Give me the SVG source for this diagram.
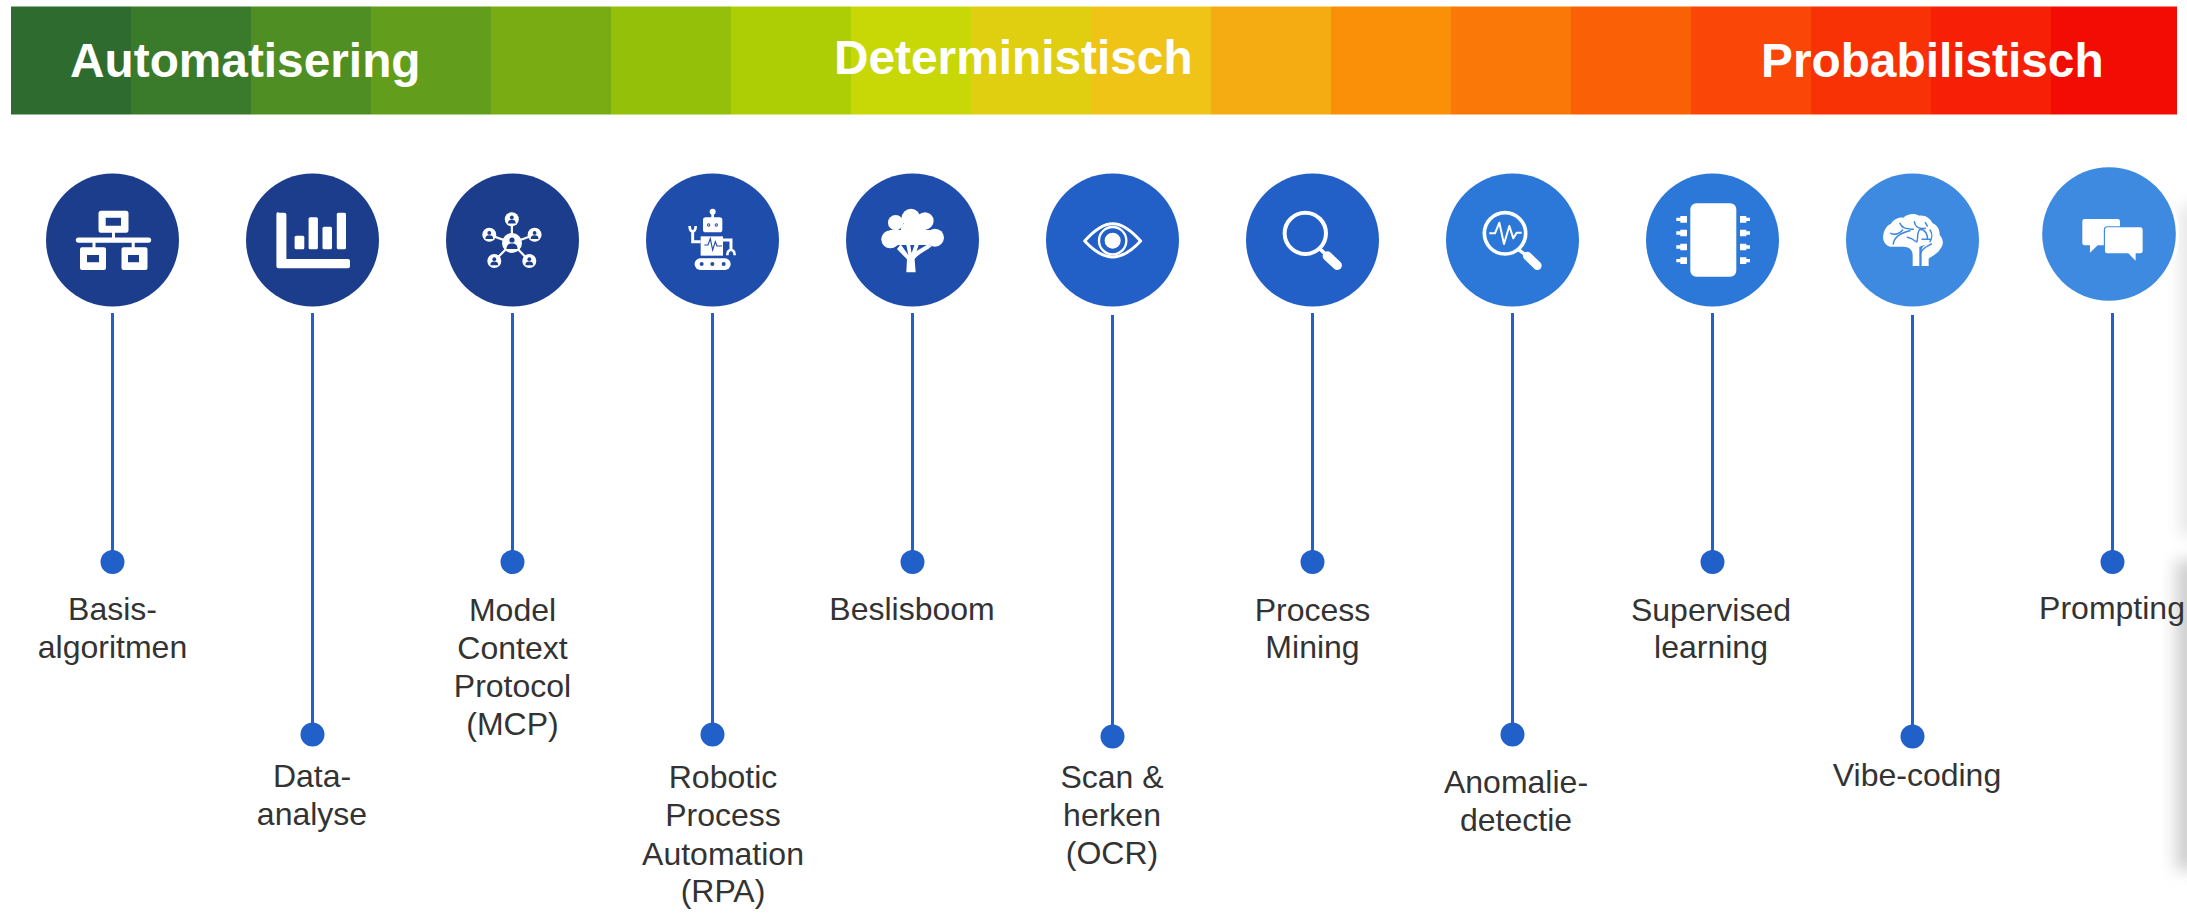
<svg xmlns="http://www.w3.org/2000/svg" width="2187" height="913" viewBox="0 0 2187 913">
<style>
text{font-family:"Liberation Sans",Arial,sans-serif}
.t{font-size:47.800px;font-weight:700;fill:#fff}
.l{font-size:32px;fill:#333;text-anchor:middle}
.c{stroke:#2060c8;stroke-width:3;fill:none}
.d{fill:#2060c8}
.w{fill:#fff}
.s{fill:none;stroke:#fff}
</style>
<defs><filter id="blur" x="-100%" y="-20%" width="300%" height="140%"><feGaussianBlur stdDeviation="8"/></filter></defs>
<rect width="2187" height="913" fill="#fff"/>
<g id="shadow">
<rect x="2180" y="205" width="40" height="330" fill="#e6e6e6" filter="url(#blur)"/>
<rect x="2176" y="560" width="40" height="310" fill="#cfcfcf" filter="url(#blur)"/>
</g>
<g id="bar">
<rect x="11" y="6.500" width="120" height="108" fill="#2e6b2f"/>
<rect x="131" y="6.500" width="120" height="108" fill="#3a7a2b"/>
<rect x="251" y="6.500" width="120" height="108" fill="#4e8e23"/>
<rect x="371" y="6.500" width="120" height="108" fill="#629e1b"/>
<rect x="491" y="6.500" width="120" height="108" fill="#78ac12"/>
<rect x="611" y="6.500" width="120" height="108" fill="#94c00a"/>
<rect x="731" y="6.500" width="120" height="108" fill="#adcd04"/>
<rect x="851" y="6.500" width="120" height="108" fill="#c8d806"/>
<rect x="971" y="6.500" width="120" height="108" fill="#e0cf10"/>
<rect x="1091" y="6.500" width="120" height="108" fill="#f0c417"/>
<rect x="1211" y="6.500" width="120" height="108" fill="#f5ab12"/>
<rect x="1331" y="6.500" width="120" height="108" fill="#fa9008"/>
<rect x="1451" y="6.500" width="120" height="108" fill="#fa7808"/>
<rect x="1571" y="6.500" width="120" height="108" fill="#fa6006"/>
<rect x="1691" y="6.500" width="120" height="108" fill="#fa4606"/>
<rect x="1811" y="6.500" width="120" height="108" fill="#f93206"/>
<rect x="1931" y="6.500" width="120" height="108" fill="#f72006"/>
<rect x="2051" y="6.500" width="126" height="108" fill="#f20c04"/>
<text class="t" x="70" y="77">Automatisering</text>
<text class="t" x="834" y="74">Deterministisch</text>
<text class="t" x="1761" y="77">Probabilistisch</text>
</g>
<g id="connectors">
<path class="c" d="M112.500 313V562M312.500 313V734M512.500 313V562M712.500 313V734M912.500 313V562M1112.500 315V736M1312.500 313V562M1512.500 313V734M1712.500 313V562M1912.500 315V736M2112.500 313V562"/>
<circle class="d" cx="112.500" cy="562" r="12"/><circle class="d" cx="312.500" cy="734.500" r="12"/><circle class="d" cx="512.500" cy="562" r="12"/><circle class="d" cx="712.500" cy="734.500" r="12"/><circle class="d" cx="912.500" cy="562" r="12"/><circle class="d" cx="1112.500" cy="736.500" r="12"/><circle class="d" cx="1312.500" cy="562" r="12"/><circle class="d" cx="1512.500" cy="734.500" r="12"/><circle class="d" cx="1712.500" cy="562" r="12"/><circle class="d" cx="1912.500" cy="736.500" r="12"/><circle class="d" cx="2112.500" cy="562" r="12"/>
</g>
<g id="n1">
<circle cx="112.500" cy="240" r="66.500" fill="#1c3c8c"/>
<path class="w" fill-rule="evenodd" d="M101 210.700h25a2.500 2.500 0 0 1 2.500 2.500v17a2.500 2.500 0 0 1-2.500 2.500h-11v4.700h33.500a2.700 2.700 0 0 1 0 5.400h-13.800v4.500h10.800a2 2 0 0 1 2 2v18.700a2 2 0 0 1-2 2h-22a2 2 0 0 1-2-2v-18.700a2 2 0 0 1 2-2h8.200v-4.500h-36.200v4.500h8.500a2 2 0 0 1 2 2v18.700a2 2 0 0 1-2 2h-22a2 2 0 0 1-2-2v-18.700a2 2 0 0 1 2-2h10.500v-4.500h-14a2.700 2.700 0 0 1 0-5.400h33.500v-4.700h-11a2.500 2.500 0 0 1-2.500-2.500v-17a2.500 2.500 0 0 1 2.500-2.500zM105.700 217.700v8h15.300v-8zM87 255v7.300h12v-7.300zM128 255v7.300h11v-7.300z"/>
</g>
<g id="n2">
<circle cx="312.500" cy="240" r="66.500" fill="#1c3c8c"/>
<g class="w"><path d="M278.400 212.700h6a2 2 0 0 1 2 2v44.300h61.600a2 2 0 0 1 2 2v5.300a2 2 0 0 1-2 2h-69.600a2 2 0 0 1-2-2v-52.300a2 2 0 0 1 2-2z"/>
<rect x="294.600" y="235.700" width="9.700" height="13.600" rx="1.500"/><rect x="308.600" y="217.300" width="9.300" height="32" rx="1.500"/><rect x="322.500" y="226.700" width="9.500" height="22.600" rx="1.500"/><rect x="336.800" y="212.700" width="9.200" height="36.600" rx="1.500"/></g>
</g>
<g id="n3">
<circle cx="512.500" cy="240" r="66.500" fill="#1c3c8c"/>
<path class="s" stroke-width="2.200" d="M512 243L511.800 219.300M512 243L489.300 234.700M512 243L534.600 234.700M512 243L494.300 261M512 243L529.300 261"/>
<g class="w"><circle cx="512" cy="243" r="10"/><circle cx="511.800" cy="219.300" r="7"/><circle cx="489.300" cy="234.700" r="7"/><circle cx="534.600" cy="234.700" r="7"/><circle cx="494.300" cy="261" r="7"/><circle cx="529.300" cy="261" r="7"/></g>
<g fill="#1c3c8c"><circle cx="512" cy="240" r="2.600"/><path d="M506.500 249c0-4 2-5.500 5.500-5.500s5.500 1.500 5.500 5.500z"/>
<circle cx="511.800" cy="217.500" r="1.900"/><path d="M507.900 223.500c0-2.700 1.400-3.700 3.900-3.700s3.900 1 3.900 3.700z"/>
<circle cx="489.300" cy="232.900" r="1.900"/><path d="M485.400 238.900c0-2.700 1.400-3.700 3.900-3.700s3.900 1 3.900 3.700z"/>
<circle cx="534.600" cy="232.900" r="1.900"/><path d="M530.700 238.900c0-2.700 1.400-3.700 3.900-3.700s3.900 1 3.900 3.700z"/>
<circle cx="494.300" cy="259.200" r="1.900"/><path d="M490.400 265.200c0-2.700 1.400-3.700 3.900-3.700s3.900 1 3.900 3.700z"/>
<circle cx="529.300" cy="259.200" r="1.900"/><path d="M525.400 265.200c0-2.700 1.400-3.700 3.900-3.700s3.900 1 3.900 3.700z"/></g>
</g>
<g id="n4">
<circle cx="712.500" cy="240" r="66.500" fill="#1f4dac"/>
<g transform="translate(650 190) scale(.3333)">
<g class="w"><circle cx="188" cy="65" r="9"/><rect x="184" y="65" width="8" height="20"/><rect x="159" y="82" width="58" height="45" rx="8"/><rect x="152" y="139" width="67" height="58"/><rect x="134" y="205" width="108" height="35" rx="17"/></g>
<path class="s" stroke-width="9" d="M152 155H128V122M219 150H243V178"/>
<path class="s" stroke-width="8" d="M119 108c0 12 3 16 9 16s9-4 9-16M232 196c0-12 4-16 11-16s11 4 11 16"/>
<g fill="#1f4dac"><circle cx="155" cy="222" r="6"/><circle cx="187" cy="222" r="6"/><circle cx="221" cy="222" r="6"/><circle cx="176" cy="105" r="5"/><circle cx="199" cy="105" r="5"/></g>
<g class="w"><circle cx="176" cy="105" r="2"/><circle cx="199" cy="105" r="2"/></g>
<path fill="none" stroke="#1f4dac" stroke-width="3.500" d="M163 165H174L181 146L188 180L196 155L201 168H216"/>
</g>
</g>
<g id="n5">
<circle cx="912.500" cy="240" r="66.500" fill="#1f4dac"/>
<g transform="translate(650 190) scale(.3333)" class="w">
<circle cx="737" cy="98" r="23"/><circle cx="783" cy="84" r="28"/><circle cx="825" cy="93" r="26"/><circle cx="855" cy="143" r="27"/><circle cx="721" cy="148" r="27"/><circle cx="790" cy="125" r="38"/><path d="M720 120H855V158L835 165H745L722 175z"/>
<path d="M769 247H797L794 208C805 190 830 183 846 168L834 163L800 183L808 160H795L785 190L780 160H768L775 195L752 163L741 177L771 208z"/>
</g>
</g>
<g id="n6">
<circle cx="1112.500" cy="240" r="66.500" fill="#2260c8"/>
<g transform="translate(1050 190) scale(.3333)">
<path class="s" stroke-width="9" stroke-linejoin="round" d="M104 153C135 118 160 101 188 101S241 118 272 153C241 186 216 201 188 201S135 186 104 153z"/>
<circle class="s" stroke-width="7" cx="188" cy="152" r="41"/>
<circle class="w" cx="188" cy="152" r="24"/>
</g>
</g>
<g id="n7">
<circle cx="1312.500" cy="240" r="66.500" fill="#2260c8"/>
<g transform="translate(1050 190) scale(.3333)">
<circle class="s" stroke-width="12" cx="766" cy="130" r="62"/>
<path class="s" stroke-width="11" d="M808 175L830 195"/>
<path class="s" stroke-width="28" stroke-linecap="round" d="M832 198L862 226"/>
</g>
</g>
<g id="n8">
<circle cx="1512.500" cy="240" r="66.500" fill="#2b78d8"/>
<g transform="translate(1450 190) scale(.3333)">
<circle class="s" stroke-width="11" cx="165" cy="130" r="62"/>
<path class="s" stroke-width="6" stroke-linejoin="round" d="M118 130H135L148 98L162 162L178 108L190 145L200 128H215"/>
<path class="s" stroke-width="10" d="M205 178L228 196"/>
<path class="s" stroke-width="26" stroke-linecap="round" d="M232 198L262 227"/>
</g>
</g>
<g id="n9">
<circle cx="1712.500" cy="240" r="66.500" fill="#2b78d8"/>
<g transform="translate(1450 190) scale(.3333)" class="w">
<rect x="721" y="40" width="138" height="220" rx="18"/>
<path d="M691 78h20v20h-20zM679 83h14v10h-14zM691 119h20v20h-20zM679 124h14v10h-14zM691 161h20v20h-20zM679 166h14v10h-14zM691 202h20v20h-20zM679 207h14v10h-14z"/>
<path d="M870 78h19v20h-19zM887 83h13v10h-13zM870 119h19v20h-19zM887 124h13v10h-13zM870 161h19v20h-19zM887 166h13v10h-13zM870 202h19v20h-19zM887 207h13v10h-13z"/>
</g>
</g>
<g id="n10">
<circle cx="1912.500" cy="240" r="66.500" fill="#3d8ae0"/>
<g transform="translate(1850 190) scale(.3333)">
<path class="w" d="M188 228V195C188 178 176 170 160 170H120C104 166 97 150 100 135C102 120 110 106 123 101C130 88 148 80 160 83C172 71 195 69 208 77C226 75 242 86 248 100C262 106 270 120 269 135C281 148 282 165 270 178C264 192 245 198 236 206V228H215V180C215 172 222 166 232 162L208 170V228z"/>
<path fill="none" stroke="#3d8ae0" stroke-width="4.500" stroke-linecap="round" stroke-linejoin="round" d="M122 130C135 136 150 130 158 120M130 162C132 140 155 128 180 122M150 100C155 116 170 116 190 118M193 95C195 110 205 118 226 115M226 98L232 108M172 142C185 144 192 150 200 156C206 150 198 130 210 118C225 118 235 135 232 148M216 148H240M212 190C215 175 230 170 244 162M240 120C248 130 246 145 240 155"/>
</g>
</g>
<g id="n11">
<circle cx="2109" cy="234" r="70" fill="#fff"/>
<circle cx="2109" cy="234" r="66.800" fill="#3d8ae0"/>
<g transform="translate(1850 190) scale(.3333)">
<path class="w" d="M704 87H803a7 7 0 0 1 7 7V160a6 6 0 0 1-6 6H743L720 188V166H704a7 7 0 0 1-7-7V94a7 7 0 0 1 7-7z"/>
<path class="w" stroke="#3d8ae0" stroke-width="7" paint-order="stroke" d="M772 112H871a7 7 0 0 1 7 7V184a6 6 0 0 1-6 6H857V212L835 190H772a7 7 0 0 1-7-7V119a7 7 0 0 1 7-7z"/>
</g>
</g>
<g id="labels">
<text class="l" x="112.500" y="619.500">Basis-</text><text class="l" x="112.500" y="657.700">algoritmen</text>
<text class="l" x="312" y="786.500">Data-</text><text class="l" x="312" y="824.700">analyse</text>
<text class="l" x="512.500" y="620.500">Model</text><text class="l" x="512.500" y="658.700">Context</text><text class="l" x="512.500" y="697">Protocol</text><text class="l" x="512.500" y="734.500">(MCP)</text>
<text class="l" x="723" y="787.500">Robotic</text><text class="l" x="723" y="825.700">Process</text><text class="l" x="723" y="864.500">Automation</text><text class="l" x="723" y="902">(RPA)</text>
<text class="l" x="912" y="619.500">Beslisboom</text>
<text class="l" x="1112" y="787.500">Scan &amp;</text><text class="l" x="1112" y="825.700">herken</text><text class="l" x="1112" y="864">(OCR)</text>
<text class="l" x="1312.500" y="620.500">Process</text><text class="l" x="1312.500" y="658">Mining</text>
<text class="l" x="1516" y="793">Anomalie-</text><text class="l" x="1516" y="831">detectie</text>
<text class="l" x="1711" y="620.500">Supervised</text><text class="l" x="1711" y="658">learning</text>
<text class="l" x="1917" y="786">Vibe-coding</text>
<text class="l" x="2112" y="619">Prompting</text>
</g>
</svg>
